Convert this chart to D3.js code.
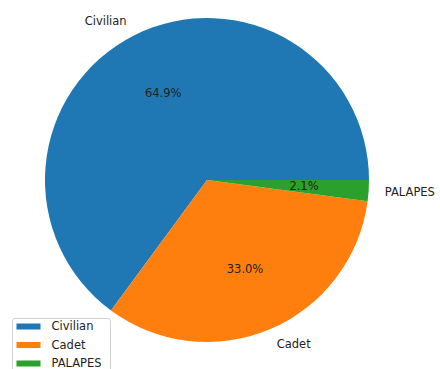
<!doctype html>
<html>
<head>
<script src="https://d3js.org/d3.v7.min.js"></script>
<style>
  body { margin: 0; background: #fff; }
  text { font-family: 'DejaVu Sans', sans-serif; font-size: 11.5px; fill: #222; }
</style>
</head>
<body>
<svg id="pie" width="440" height="369"></svg>
<script>
  var categories = ["Civilian", "Cadet", "PALAPES"];
  var values = [64.9, 33.0, 2.1];
  var colors = ["#1f77b4", "#ff7f0e", "#2ca02c"];

  var cx = 207, cy = 180, radius = 162;

  var svg = d3.select("#pie");
  var g = svg.append("g").attr("transform", "translate(" + cx + "," + cy + ")");

  // matplotlib style: start at 3 o'clock, go counter-clockwise
  var pie = d3.pie().sort(null)
      .startAngle(Math.PI / 2)
      .endAngle(Math.PI / 2 - 2 * Math.PI);
  var arcs = pie(values);

  var arc = d3.arc().innerRadius(0).outerRadius(radius);
  var color = d3.scaleOrdinal().domain(categories).range(colors);

  g.selectAll("path")
    .data(arcs)
    .enter()
    .append("path")
    .attr("d", arc)
    .attr("fill", (d, i) => color(categories[i]));

  function pos(d, f) {
    var a = (d.startAngle + d.endAngle) / 2;
    return [Math.sin(a) * radius * f, -Math.cos(a) * radius * f];
  }

  // outer labels
  g.selectAll(".label")
    .data(arcs)
    .enter()
    .append("text")
    .attr("class", "label")
    .attr("x", d => pos(d, 1.1)[0])
    .attr("y", d => pos(d, 1.1)[1])
    .attr("dy", "0.35em")
    .attr("text-anchor", d => pos(d, 1.1)[0] < 0 ? "end" : "start")
    .text((d, i) => categories[i]);

  // percentages
  g.selectAll(".pct")
    .data(arcs)
    .enter()
    .append("text")
    .attr("class", "pct")
    .attr("x", d => pos(d, 0.6)[0])
    .attr("y", d => pos(d, 0.6)[1])
    .attr("dy", "0.35em")
    .attr("text-anchor", "middle")
    .text(d => d3.format(".1f")(d.value) + "%");

  // legend, lower left (cut by the bottom edge like the original)
  var legend = svg.append("g").attr("transform", "translate(12.5,318.5)");
  legend.append("rect")
    .attr("width", 98)
    .attr("height", 58)
    .attr("rx", 2.5)
    .attr("fill", "#fff")
    .attr("fill-opacity", 0.8)
    .attr("stroke", "#d0d0d0");

  var rows = legend.selectAll(".row")
    .data(categories)
    .enter()
    .append("g")
    .attr("transform", (d, i) => "translate(4," + (7.5 + i * 18.5) + ")");
  rows.append("rect")
    .attr("y", -2.5)
    .attr("width", 24)
    .attr("height", 6)
    .attr("fill", d => color(d));
  rows.append("text")
    .attr("x", 35)
    .attr("y", 0)
    .attr("dy", "0.35em")
    .text(d => d);
</script>
</body>
</html>
